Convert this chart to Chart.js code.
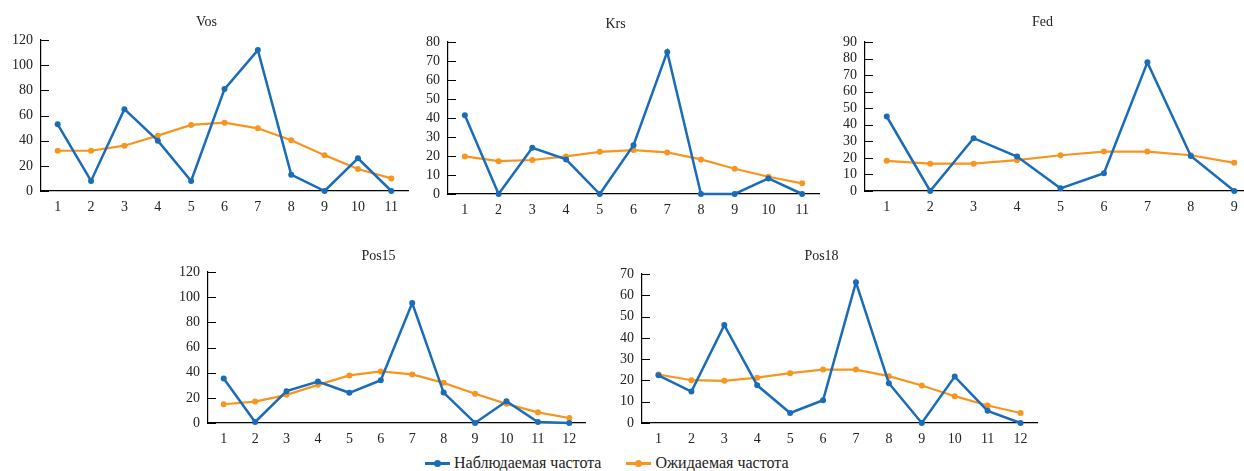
<!DOCTYPE html>
<html>
<head>
<meta charset="utf-8">
<script src="https://cdn.jsdelivr.net/npm/chart.js@4.4.1/dist/chart.umd.min.js"></script>
<style>
  html, body { margin: 0; padding: 0; background: #fff; }
  body { width: 1244px; height: 471px; position: relative; overflow: hidden; }
  canvas { position: absolute; }
  #legend { position: absolute; left: 425px; top: 453px; height: 20px; line-height: 20px; font-size: 16px; color: #222;
            white-space: nowrap; font-family: "Liberation Serif", "Times New Roman", "DejaVu Serif", serif; }
  .item { display: inline-block; margin-right: 25px; }
  .mark { display: inline-block; position: relative; width: 25px; height: 3px; vertical-align: middle; margin-right: 4px; top: -1px; }
  .mark::after { content: ""; position: absolute; left: 9px; top: -2px; width: 7px; height: 7px; border-radius: 50%; background: inherit; }
</style>
</head>
<body>
<canvas id="vos"></canvas>
<canvas id="krs"></canvas>
<canvas id="fed"></canvas>
<canvas id="pos15"></canvas>
<canvas id="pos18"></canvas>
<div id="legend">
  <span class="item"><span class="mark" style="background:#1a6cb8"></span>Наблюдаемая частота</span><span class="item"><span class="mark" style="background:#f7951f"></span>Ожидаемая частота</span>
</div>
<script>
// data
const vosLabels = ["1","2","3","4","5","6","7","8","9","10","11"];
const vosObserved = [53, 8, 65, 40, 8, 81, 112, 13, 0, 26, 0];
const vosExpected = [32, 32, 36, 44, 52.5, 54.3, 49.8, 40.3, 28.5, 17.5, 10];

const krsLabels = ["1","2","3","4","5","6","7","8","9","10","11"];
const krsObserved = [41.5, 0, 24.3, 18.2, 0, 25.7, 74.8, 0, 0, 8.2, 0];
const krsExpected = [19.8, 17.3, 17.9, 19.8, 22.2, 23.1, 21.9, 18.2, 13.3, 9.1, 5.6];

const fedLabels = ["1","2","3","4","5","6","7","8","9"];
const fedObserved = [45, 0, 31.9, 20.8, 1.6, 10.7, 77.7, 21.2, 0];
const fedExpected = [18.2, 16.5, 16.5, 18.6, 21.6, 23.8, 23.8, 21.6, 17];

const pos15Labels = ["1","2","3","4","5","6","7","8","9","10","11","12"];
const pos15Observed = [35.4, 0.8, 25.3, 33, 24, 34, 95.3, 24.2, 0, 17.3, 0.8, 0];
const pos15Expected = [14.9, 17, 22.4, 30.3, 37.8, 41, 38.6, 31.9, 23.2, 15.2, 8.5, 4];

const pos18Labels = ["1","2","3","4","5","6","7","8","9","10","11","12"];
const pos18Observed = [22.4, 14.8, 46, 17.7, 4.7, 10.7, 66.1, 18.7, 0, 21.8, 5.7, 0];
const pos18Expected = [22.8, 20.1, 19.8, 21.3, 23.4, 25.1, 25.1, 22, 17.6, 12.6, 8.2, 4.7];

const seriesNames = ["Наблюдаемая частота", "Ожидаемая частота"];

const BLUE = "#1a6cb8";
const ORANGE = "#f7951f";
const TEXT = "#222";
const FONT = "'Liberation Serif', 'Times New Roman', 'DejaVu Serif', serif";

// short tick marks pointing into the plot
const innerTicks = {
    id: "innerTicks",
    afterDraw(chart) {
        const y = chart.scales.y;
        const ctx = chart.ctx;
        ctx.save();
        ctx.strokeStyle = "#000";
        ctx.lineWidth = 1;
        y.ticks.forEach(t => {
            const py = Math.round(y.getPixelForValue(t.value)) + 0.5;
            ctx.beginPath();
            ctx.moveTo(y.right, py);
            ctx.lineTo(y.right + 8, py);
            ctx.stroke();
        });
        ctx.restore();
    }
};

function makePanel(id, title, labels, observed, expected, yMax, yStep, box) {
    let canvas = document.getElementById(id);
    canvas.style.left = box.left + "px";
    canvas.style.top = box.top + "px";
    canvas.width = box.width;
    canvas.height = box.height;
    canvas.style.width = box.width + "px";
    canvas.style.height = box.height + "px";

    return new Chart(canvas.getContext("2d"), {
        type: "line",
        data: {
            labels: labels,
            datasets: [
                {
                    label: seriesNames[0],
                    data: observed,
                    borderColor: BLUE,
                    backgroundColor: BLUE,
                    borderWidth: 2.5,
                    pointRadius: 3,
                    pointBorderWidth: 0,
                    tension: 0
                },
                {
                    label: seriesNames[1],
                    data: expected,
                    borderColor: ORANGE,
                    backgroundColor: ORANGE,
                    borderWidth: 2.2,
                    pointRadius: 3,
                    pointBorderWidth: 0,
                    tension: 0
                }
            ]
        },
        options: {
            responsive: false,
            animation: false,
            clip: false,
            layout: { padding: 0 },
            plugins: {
                legend: { display: false },
                tooltip: { enabled: false },
                title: {
                    display: true,
                    text: title,
                    color: TEXT,
                    font: { family: FONT, size: 14, weight: "normal" },
                    padding: { top: box.titleTop, bottom: box.titleBottom }
                }
            },
            scales: {
                x: {
                    offset: true,
                    grid: { display: false },
                    border: { display: true, color: "#000", width: 1.2 },
                    ticks: { color: TEXT, padding: 0, maxRotation: 0, autoSkip: false,
                             font: { family: FONT, size: 14 } },
                    afterFit: s => { s.height = 24; }
                },
                y: {
                    min: 0,
                    max: yMax,
                    grid: { display: false },
                    border: { display: true, color: "#000", width: 1.2 },
                    ticks: { stepSize: yStep, autoSkip: false, color: TEXT, padding: 0,
                             font: { family: FONT, size: 14 } },
                    afterFit: s => { s.width = 40; }
                }
            }
        },
        plugins: [innerTicks]
    });
}

makePanel("vos", "Vos", vosLabels, vosObserved, vosExpected, 120, 20,
    { left: 1, top: 0, width: 411, height: 215, titleTop: 13.6, titleBottom: 9.6 });
makePanel("krs", "Krs", krsLabels, krsObserved, krsExpected, 80, 10,
    { left: 408, top: 0, width: 415, height: 218, titleTop: 16.1, titleBottom: 9.1 });
makePanel("fed", "Fed", fedLabels, fedObserved, fedExpected, 90, 10,
    { left: 825, top: 0, width: 435, height: 215, titleTop: 13.6, titleBottom: 11.6 });
makePanel("pos15", "Pos15", pos15Labels, pos15Observed, pos15Expected, 120, 20,
    { left: 168, top: 240, width: 421, height: 207, titleTop: 8.1, titleBottom: 7.1 });
makePanel("pos18", "Pos18", pos18Labels, pos18Observed, pos18Expected, 70, 10,
    { left: 602, top: 240, width: 439, height: 207, titleTop: 8.1, titleBottom: 9.1 });
</script>
</body>
</html>
